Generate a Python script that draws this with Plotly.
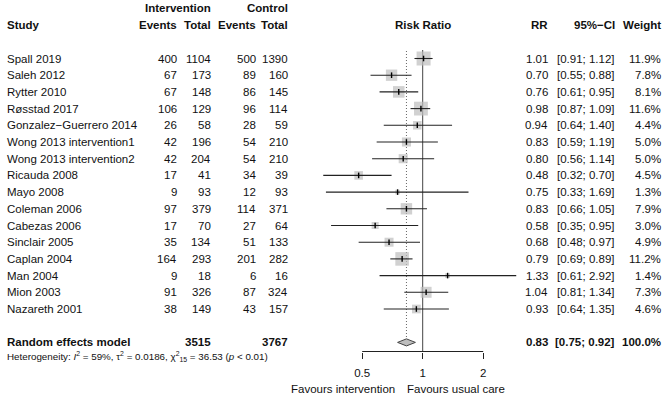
import math
import plotly.graph_objects as go

# ---------------- data ----------------
studies = ["Spall 2019", "Saleh 2012", "Rytter 2010", "Røsstad 2017",
           "Gonzalez−Guerrero 2014", "Wong 2013 intervention1", "Wong 2013 intervention2",
           "Ricauda 2008", "Mayo 2008", "Coleman 2006", "Cabezas 2006", "Sinclair 2005",
           "Caplan 2004", "Man 2004", "Mion 2003", "Nazareth 2001"]
ev_int = [400, 67, 67, 106, 26, 42, 42, 17, 9, 97, 17, 35, 164, 9, 91, 38]
n_int = [1104, 173, 148, 129, 58, 196, 204, 41, 93, 379, 70, 134, 293, 18, 326, 149]
ev_ctl = [500, 89, 86, 96, 28, 54, 54, 34, 12, 114, 27, 51, 201, 6, 87, 43]
n_ctl = [1390, 160, 145, 114, 59, 210, 210, 39, 93, 371, 64, 133, 282, 16, 324, 157]
rr = [1.01, 0.70, 0.76, 0.98, 0.94, 0.83, 0.80, 0.48, 0.75, 0.83, 0.58, 0.68, 0.79, 1.33, 1.04, 0.93]
ci_lo = [0.91, 0.55, 0.61, 0.87, 0.64, 0.59, 0.56, 0.32, 0.33, 0.66, 0.35, 0.48, 0.69, 0.61, 0.81, 0.64]
ci_hi = [1.12, 0.88, 0.95, 1.09, 1.40, 1.19, 1.14, 0.70, 1.69, 1.05, 0.95, 0.97, 0.89, 2.92, 1.34, 1.35]
weight = [11.9, 7.8, 8.1, 11.6, 4.4, 5.0, 5.0, 4.5, 1.3, 7.9, 3.0, 4.9, 11.2, 1.4, 7.3, 4.6]

pooled_total_int = 3515
pooled_total_ctl = 3767
pooled_rr = 0.83
pooled_lo = 0.75
pooled_hi = 0.92
pooled_weight = 100.0

tick_vals = [0.5, 1, 2]
tick_text = ["0.5", "1", "2"]
label_left = "Favours intervention"
label_right = "Favours usual care"
heterogeneity = ("Heterogeneity: <i>I</i><sup>2</sup> = 59%, τ<sup>2</sup> = 0.0186, "
                 "χ<sup>2</sup><sub>15</sub> = 36.53 (<i>p</i> &lt; 0.01)")

# ---------------- layout helpers ----------------
W, H = 666, 397
ROW0, ROWH = 58.5, 16.7          # pixel y of first study row, row height


def row_of(px):
    return (px - ROW0) / ROWH


def xp(px):
    return px / W


FONT = "Liberation Sans, Arial, Helvetica, sans-serif"
FS = 11.5
TXT = "#111111"

n = len(studies)
rows = list(range(n))
pooled_row = n + 1
het_row = row_of(356)
axis_row = row_of(351.5)
label_row = row_of(389)

# forest x-axis mapping: px = 422.7 + 60.5*log2(v)
px_left, px_right = 318, 528
lg_left = (px_left - 422.7) / 60.5 * math.log10(2)
lg_right = (px_right - 422.7) / 60.5 * math.log10(2)

fig = go.Figure()

# vertical reference lines
fig.add_trace(go.Scatter(x=[1, 1], y=[row_of(50), axis_row], mode="lines",
                         line=dict(color="#444444", width=1), hoverinfo="skip"))
fig.add_trace(go.Scatter(x=[pooled_rr, pooled_rr], y=[row_of(51), pooled_row - 0.21], mode="lines",
                         line=dict(color="#666666", width=1, dash="1px,2px"), hoverinfo="skip"))

# axis line (between extreme ticks)
fig.add_trace(go.Scatter(x=[tick_vals[0], tick_vals[-1]], y=[axis_row, axis_row], mode="lines",
                         line=dict(color="#222222", width=1), hoverinfo="skip"))

# squares
fig.add_trace(go.Scatter(x=rr, y=rows, mode="markers",
                         marker=dict(symbol="square", color="#BEBEBE",
                                     size=[4.06 * math.sqrt(w) for w in weight],
                                     line=dict(width=0)),
                         hoverinfo="skip"))

# CI lines
cx, cy = [], []
for i in range(n):
    cx += [ci_lo[i], ci_hi[i], None]
    cy += [i, i, None]
fig.add_trace(go.Scatter(x=cx, y=cy, mode="lines", line=dict(color="#222222", width=1.1),
                         hoverinfo="skip"))

# estimate ticks
fig.add_trace(go.Scatter(x=rr, y=rows, mode="markers",
                         marker=dict(symbol="line-ns-open", size=4, color="#000000",
                                     line=dict(color="#000000", width=1.4)),
                         hoverinfo="skip"))

# pooled diamond
dh = 0.21
fig.add_trace(go.Scatter(x=[pooled_lo, pooled_rr, pooled_hi, pooled_rr, pooled_lo],
                         y=[pooled_row, pooled_row - dh, pooled_row, pooled_row + dh, pooled_row],
                         mode="lines", fill="toself", fillcolor="#BEBEBE",
                         line=dict(color="#444444", width=1), hoverinfo="skip"))

ann = []


def add_text(px, row, text, anchor="right", bold=False, size=FS):
    t = f"<b>{text}</b>" if bold else text
    ann.append(dict(x=xp(px), y=row, xref="paper", yref="y", text=t, showarrow=False,
                    xanchor=anchor, yanchor="middle",
                    font=dict(family=FONT, size=size, color=TXT)))


# headers
add_text(213, -3, "Intervention", bold=True)
add_text(290, -3, "Control", bold=True)
add_text(5, -2, "Study", anchor="left", bold=True)
add_text(179, -2, "Events", bold=True)
add_text(213, -2, "Total", bold=True)
add_text(258, -2, "Events", bold=True)
add_text(290, -2, "Total", bold=True)
add_text(423, -2, "Risk Ratio", anchor="center", bold=True)
add_text(550, -2, "RR", bold=True)
add_text(617, -2, "95%−CI", bold=True)
add_text(663, -2, "Weight", bold=True)

for i in range(n):
    add_text(5, i, studies[i], anchor="left")
    add_text(179, i, str(ev_int[i]))
    add_text(213, i, str(n_int[i]))
    add_text(258, i, str(ev_ctl[i]))
    add_text(290, i, str(n_ctl[i]))
    add_text(550, i, f"{rr[i]:.2f}")
    add_text(617, i, f"[{ci_lo[i]:.2f}; {ci_hi[i]:.2f}]")
    add_text(663, i, f"{weight[i]:.1f}%")

add_text(5, pooled_row, "Random effects model", anchor="left", bold=True)
add_text(213, pooled_row, str(pooled_total_int), bold=True)
add_text(290, pooled_row, str(pooled_total_ctl), bold=True)
add_text(550, pooled_row, f"{pooled_rr:.2f}", bold=True)
add_text(617, pooled_row, f"[{pooled_lo:.2f}; {pooled_hi:.2f}]", bold=True)
add_text(663, pooled_row, f"{pooled_weight:.1f}%", bold=True)

add_text(5, het_row, heterogeneity, anchor="left", size=9.8)
add_text(397, label_row, label_left, anchor="right")
add_text(405, label_row, label_right, anchor="left")

fig.update_layout(
    width=W, height=H,
    margin=dict(l=0, r=0, t=0, b=0),
    paper_bgcolor="white", plot_bgcolor="rgba(0,0,0,0)",
    showlegend=False,
    annotations=ann,
    font=dict(family=FONT, size=FS, color=TXT),
    xaxis=dict(type="log", domain=[xp(px_left), xp(px_right)], range=[lg_left, lg_right],
               anchor="free", position=(H - 351.5) / H,
               showgrid=False, zeroline=False, showline=False,
               tickmode="array", tickvals=tick_vals, ticktext=tick_text,
               ticks="outside", ticklen=6, tickwidth=1, tickcolor="#222222",
               ticklabelstandoff=5,
               tickfont=dict(family=FONT, size=FS, color=TXT)),
    yaxis=dict(domain=[0, 1], range=[row_of(H), row_of(0)], visible=False,
               showgrid=False, zeroline=False),
)

fig.write_html("out.html", config={"displayModeBar": False, "staticPlot": True},
               post_script="document.body.style.margin='0';document.body.style.overflow='hidden';")
